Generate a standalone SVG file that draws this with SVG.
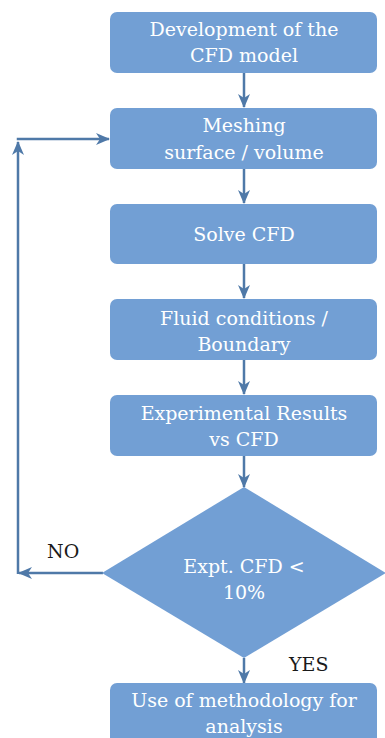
<svg xmlns="http://www.w3.org/2000/svg" width="385" height="738" viewBox="0 0 385 738">
<defs>
<style>
.box{fill:#729fd4;}
.t{font-family:'DejaVu Serif','Liberation Serif',serif;font-size:19px;fill:#ffffff;text-anchor:middle;}
.lbl{font-family:'DejaVu Serif','Liberation Serif',serif;font-size:19px;fill:#1a1a1a;}
.c{fill:none;stroke:#4f79a8;stroke-width:2.5;}
</style>
<marker id="ah" markerUnits="userSpaceOnUse" markerWidth="14" markerHeight="14" viewBox="0 0 14 14" refX="13" refY="7" orient="auto">
<path d="M0,1 L14,7 L0,13 L4,7 z" fill="#4f79a8"/>
</marker>
</defs>
<g id="connectors">
<line class="c" x1="244" y1="73" x2="244" y2="107" marker-end="url(#ah)"/>
<line class="c" x1="244" y1="169" x2="244" y2="203" marker-end="url(#ah)"/>
<line class="c" x1="244" y1="264" x2="244" y2="298" marker-end="url(#ah)"/>
<line class="c" x1="244" y1="360" x2="244" y2="394" marker-end="url(#ah)"/>
<line class="c" x1="244" y1="456" x2="244" y2="487" marker-end="url(#ah)"/>
<line class="c" x1="244" y1="658" x2="244" y2="683" marker-end="url(#ah)"/>
<line class="c" x1="103" y1="573" x2="19" y2="573" marker-end="url(#ah)"/>
<line class="c" x1="18" y1="574" x2="18" y2="142" marker-end="url(#ah)"/>
<line class="c" x1="16.75" y1="139" x2="109" y2="139" marker-end="url(#ah)"/>
</g>
<g id="n1"><rect class="box" x="110" y="12" width="267" height="61" rx="7"/>
<text class="t" x="244" y="36">Development of the</text><text class="t" x="244" y="62">CFD model</text></g>
<g id="n2"><rect class="box" x="110" y="108" width="267" height="61" rx="7"/>
<text class="t" x="244" y="132">Meshing</text><text class="t" x="244" y="159">surface / volume</text></g>
<g id="n3"><rect class="box" x="110" y="204" width="267" height="60" rx="7"/>
<text class="t" x="244" y="241">Solve CFD</text></g>
<g id="n4"><rect class="box" x="110" y="299" width="267" height="61" rx="7"/>
<text class="t" x="244" y="325">Fluid conditions /</text><text class="t" x="244" y="351">Boundary</text></g>
<g id="n5"><rect class="box" x="110" y="395" width="267" height="61" rx="7"/>
<text class="t" x="244" y="420">Experimental Results</text><text class="t" x="244" y="446">vs CFD</text></g>
<g id="n6"><polygon class="box" points="244,487 386,573 244,658 102,573"/>
<text class="t" x="244" y="573">Expt. CFD &lt;</text><text class="t" x="244" y="599">10%</text></g>
<g id="n7"><rect class="box" x="110" y="683" width="267" height="70" rx="7"/>
<text class="t" x="244" y="707">Use of methodology for</text><text class="t" x="244" y="733">analysis</text></g>
<text class="lbl" x="47" y="558">NO</text>
<text class="lbl" x="289" y="671">YES</text>
</svg>
